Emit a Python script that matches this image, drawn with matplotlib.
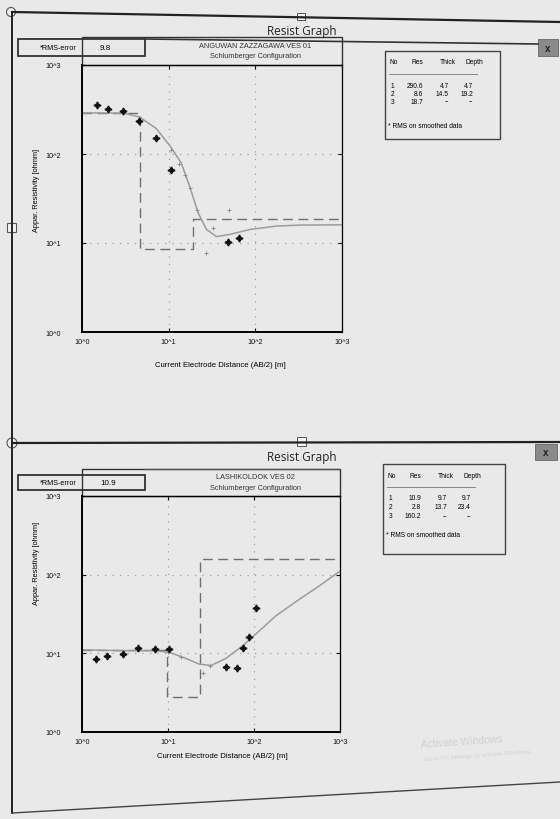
import matplotlib.pyplot as plt
from matplotlib.patches import Rectangle, Circle
from matplotlib.ticker import FixedLocator, FixedFormatter, NullLocator

W, H = 560, 820
BG = "#e9e9e9"
FONT = ["Liberation Sans", "DejaVu Sans"]

# ---- VES 01 ----
ves1_name = "ANGUWAN ZAZZAGAWA VES 01"
ves1_rms = 9.8
ves1_ab2 = [1.5, 2.0, 3.0, 4.6, 7.2, 10.5, 49, 65]
ves1_rho = [352, 318, 302, 235, 152, 66, 10.3, 11.3]
ves1_smooth_ab2 = [10.7, 13.0, 15.3, 17.5, 21.0, 27.3, 32.6, 50.0]
ves1_smooth_rho = [112, 78, 58, 41, 23.5, 7.8, 14.7, 23.5]
ves1_fit_ab2 = [1.0, 3.0, 4.6, 7.2, 10.5, 14.0, 17.5, 21.9, 27.3, 35.6, 51, 87, 177, 329, 1000]
ves1_fit_rho = [290, 288, 261, 193, 121, 79, 43, 21.8, 14.2, 11.8, 12.5, 14.2, 15.5, 15.9, 16.0]
ves1_res = [290.6, 8.6, 18.7]
ves1_thick = [4.7, 14.5]
ves1_depth = [4.7, 19.2]

# ---- VES 02 ----
ves2_name = "LASHIKOLDOK VES 02"
ves2_rms = 10.9
ves2_ab2 = [1.46, 1.94, 3.0, 4.5, 7.0, 10.4, 47, 63, 74, 87, 105]
ves2_rho = [8.5, 9.2, 9.7, 11.6, 11.3, 11.3, 6.7, 6.6, 11.6, 15.9, 37.5]
ves2_smooth_ab2 = [10.0, 14.0, 25.7, 31.0]
ves2_smooth_rho = [10.5, 9.0, 5.6, 7.0]
ves2_fit_ab2 = [1.0, 3.0, 7.0, 10.4, 16.2, 23.0, 31.6, 47, 74, 105, 180, 337, 575, 1000]
ves2_fit_rho = [11.1, 10.8, 10.8, 10.3, 8.6, 7.3, 7.0, 8.6, 12.5, 17.6, 30, 48.7, 72, 111]
ves2_res = [10.9, 2.8, 160.2]
ves2_thick = [9.7, 13.7]
ves2_depth = [9.7, 23.4]

DECADES = [1, 10, 100, 1000]
DECADE_LABELS = ["10^0", "10^1", "10^2", "10^3"]


def px_rect(x0, y0, x1, y1):
    return [x0 / W, 1 - y1 / H, (x1 - x0) / W, (y1 - y0) / H]


def model_steps(res, depth, xmin=1, xmax=1000):
    xs, ys = [xmin], [res[0]]
    for i, d in enumerate(depth):
        xs += [d, d]
        ys += [res[i], res[i + 1]]
    xs.append(xmax)
    ys.append(res[-1])
    return xs, ys


def draw_panel(fig, bg, lay, name, rms, ab2, rho, s_ab2, s_rho, f_ab2, f_rho, res, thick, depth):
    # window caption and boxes drawn on the background overlay
    bg.text(lay["caption"][0], lay["caption"][1], "Resist Graph", ha="center", va="center",
            fontsize=8.5, family=["Open Sans", "DejaVu Sans"], color="#222")

    x0, y0, x1, y1 = lay["rms"]
    bg.add_patch(Rectangle((x0, y0), x1 - x0, y1 - y0, fill=False, ec="#333", lw=1.3))
    bg.text(x0 + 22, (y0 + y1) / 2, "*RMS-error", fontsize=5.2, va="center", family=FONT)
    bg.text(x0 + 82, (y0 + y1) / 2, f"{rms:.1f}", fontsize=5.8, va="center", family=FONT)

    x0, y0, x1, y1 = lay["title"]
    bg.add_patch(Rectangle((x0, y0), x1 - x0, y1 - y0, fill=False, ec="#333", lw=1.0))
    bg.text(255, y0 + 8, name, ha="center", va="center", fontsize=5.3, family=FONT, color="#333")
    bg.text(255, y0 + 19, "Schlumberger Configuration", ha="center", va="center",
            fontsize=5.3, family=FONT, color="#333")

    # layer table
    x0, y0, x1, y1 = lay["table"]
    bg.add_patch(Rectangle((x0, y0), x1 - x0, y1 - y0, fill=False, ec="#444", lw=1.0))
    hy = lay["rows"][0]
    bg.text(x0 + 4, hy, "No", fontsize=4.8, va="center", family=FONT)
    bg.text(x0 + 27, hy, "Res", fontsize=4.8, va="center", family=FONT)
    bg.text(x0 + 55, hy, "Thick", fontsize=4.8, va="center", family=FONT)
    bg.text(x0 + 80, hy, "Depth", fontsize=4.8, va="center", family=FONT)
    bg.plot([x0 + 4, x0 + 92], [lay["rows"][1], lay["rows"][1]], color="#777", lw=0.6)
    for i, r in enumerate(res):
        ry = lay["rows"][2 + i]
        bg.text(x0 + 6, ry, str(i + 1), fontsize=4.8, va="center", family=FONT)
        bg.text(x0 + 38, ry, f"{r:.1f}", fontsize=4.8, va="center", ha="right", family=FONT)
        t = f"{thick[i]:.1f}" if i < len(thick) else "--"
        d = f"{depth[i]:.1f}" if i < len(depth) else "--"
        bg.text(x0 + 64, ry, t, fontsize=4.8, va="center", ha="right", family=FONT)
        bg.text(x0 + 88, ry, d, fontsize=4.8, va="center", ha="right", family=FONT)
    bg.text(x0 + 3, lay["rows"][5], "* RMS on smoothed data", fontsize=4.8, va="center", family=FONT)

    # close button
    x0, y0, x1, y1 = lay["close"]
    bg.add_patch(Rectangle((x0, y0), x1 - x0, y1 - y0, fc="#8a8a8a", ec="#666", lw=0.6))
    bg.text((x0 + x1) / 2, (y0 + y1) / 2, "x", ha="center", va="center", fontsize=7,
            fontweight="bold", color="#222", family=FONT)

    # axis titles
    bg.text(lay["ylabel"][0], lay["ylabel"][1], "Appar. Resistivity [ohmm]", rotation=90,
            ha="center", va="center", fontsize=5.3, family=FONT)
    bg.text(lay["xlabel"][0], lay["xlabel"][1], "Current Electrode Distance (AB/2) [m]",
            ha="center", va="center", fontsize=5.6, family=FONT)

    # sounding curve axes
    ax = fig.add_axes(px_rect(*lay["axes"]))
    ax.set_facecolor("none")
    ax.set_xscale("log")
    ax.set_yscale("log")
    ax.set_xlim(1, 1000)
    ax.set_ylim(1, 1000)

    mx, my = model_steps(res, depth)
    ax.plot(mx, my, color="#6f6f6f", lw=1.0, dashes=(7, 4))
    ax.plot(f_ab2, f_rho, color="#9c9c9c", lw=1.1)
    ax.plot(s_ab2, s_rho, ls="none", marker="+", ms=3, mew=0.7, color="#8f8f8f")
    ax.plot(ab2, rho, ls="none", marker=(4, 1, 0), ms=5, color="#111")

    for axis in (ax.xaxis, ax.yaxis):
        axis.set_major_locator(FixedLocator(DECADES))
        axis.set_major_formatter(FixedFormatter(DECADE_LABELS))
        axis.set_minor_locator(NullLocator())
    ax.tick_params(which="major", direction="in", length=3, width=0.8,
                   top=True, right=True, labelsize=5.2, colors="#111")
    ax.tick_params(axis="y", pad=15)
    ax.tick_params(axis="x", pad=4)
    for lab in ax.get_xticklabels() + ax.get_yticklabels():
        lab.set_family(FONT)
    ax.grid(True, which="major", ls=(0, (1, 5)), color="#9f9f9f", lw=0.9)
    ax.spines["left"].set_linewidth(1.4)
    ax.spines["bottom"].set_linewidth(1.4)
    ax.spines["top"].set_linewidth(0.9)
    ax.spines["right"].set_linewidth(0.9)
    return ax


fig = plt.figure(figsize=(W / 100, H / 100), dpi=100, facecolor=BG)
bg = fig.add_axes([0, 0, 1, 1])
bg.set_xlim(0, W)
bg.set_ylim(H, 0)
bg.axis("off")

# window frame
bg.plot([12, 560], [13, 23], color="#222", lw=1.6)
bg.plot([145, 538], [40, 45], color="#333", lw=1.2)
bg.plot([12, 12], [13, 814], color="#222", lw=1.4)
bg.plot([12, 560], [444, 443], color="#222", lw=1.6)
bg.plot([145, 340], [470, 470], color="#555", lw=0.9)
bg.plot([12, 560], [814, 783], color="#444", lw=1.0)
bg.add_patch(Circle((11, 13), 4.5, fc="#f2f2f2", ec="#555", lw=0.8))
bg.add_patch(Rectangle((7, 224), 9, 9, fc="#f2f2f2", ec="#555", lw=0.8))
bg.add_patch(Circle((12, 444), 5, fc="#f2f2f2", ec="#555", lw=0.8))
bg.add_patch(Rectangle((297, 14), 8, 7, fc="#f2f2f2", ec="#555", lw=0.7))
bg.add_patch(Rectangle((297, 438), 9, 9, fc="#f2f2f2", ec="#555", lw=0.7))

top_layout = {
    "caption": (302, 32), "rms": (18, 40, 145, 57), "title": (82, 38, 342, 66),
    "table": (385, 52, 500, 140), "rows": [63, 75, 86, 94, 102, 126],
    "close": (538, 40, 558, 57), "ylabel": (36, 190), "xlabel": (220, 366),
    "axes": (82, 66, 342, 333),
}
bottom_layout = {
    "caption": (302, 458), "rms": (18, 476, 145, 491), "title": (82, 470, 340, 497),
    "table": (383, 465, 505, 555), "rows": [477, 488, 499, 508, 517, 536],
    "close": (535, 445, 557, 461), "ylabel": (36, 563), "xlabel": (222, 757),
    "axes": (82, 497, 340, 733),
}

draw_panel(fig, bg, top_layout, ves1_name, ves1_rms, ves1_ab2, ves1_rho,
           ves1_smooth_ab2, ves1_smooth_rho, ves1_fit_ab2, ves1_fit_rho,
           ves1_res, ves1_thick, ves1_depth)
draw_panel(fig, bg, bottom_layout, ves2_name, ves2_rms, ves2_ab2, ves2_rho,
           ves2_smooth_ab2, ves2_smooth_rho, ves2_fit_ab2, ves2_fit_rho,
           ves2_res, ves2_thick, ves2_depth)

# faint OS watermark
bg.text(420, 748, "Activate Windows", fontsize=7.5, color="#cfcfcf", rotation=4, family=FONT)
bg.text(424, 761, "Go to PC settings to activate Windows.", fontsize=4.5, color="#d2d2d2",
        rotation=4, family=FONT)

fig.savefig("out.png", dpi=100, facecolor=BG)
